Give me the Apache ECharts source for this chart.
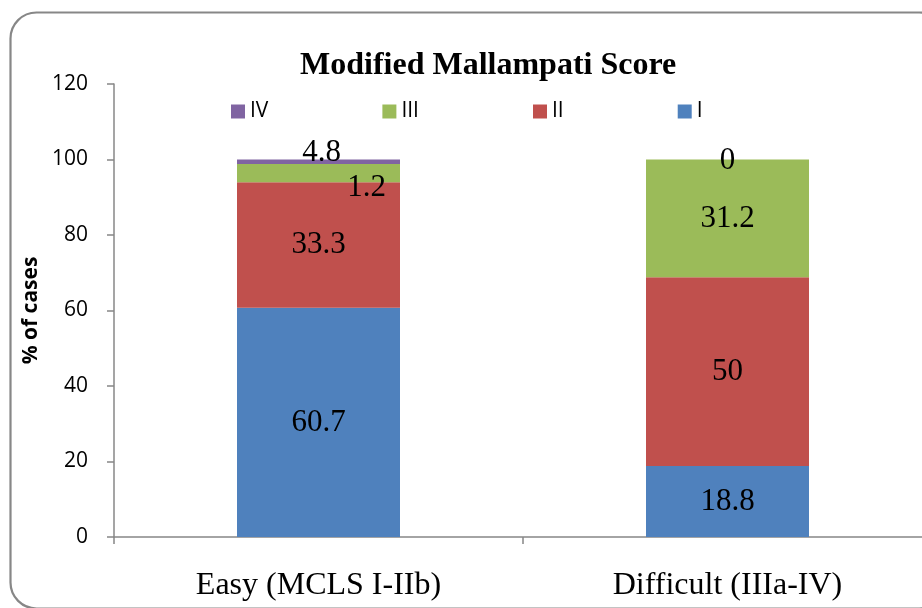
<!DOCTYPE html>
<html>
<head>
<meta charset="utf-8">
<script src="https://cdn.jsdelivr.net/npm/echarts@6/dist/echarts.min.js"></script>
<style>
html,body{margin:0;padding:0;background:#fff;}
#c{width:922px;height:608px;}
</style>
</head>
<body>
<div id="c"></div>
<script>
var categories = ['Easy (MCLS I-IIb)', 'Difficult (IIIa-IV)'];
var seriesNames = ['I', 'II', 'III', 'IV'];
var gradeI = [60.7, 18.8];
var gradeII = [33.3, 50];
var gradeIII = [4.8, 31.2];
var gradeIV = [1.2, 0];
var yTicks = [0, 20, 40, 60, 80, 100, 120];

var colors = {I:'#4F81BD', II:'#C0504D', III:'#9BBB59', IV:'#8064A2'};
var labelFont = {color:'#000', fontFamily:'"Liberation Serif","Times New Roman",serif', fontSize:31};

function mkData(vals, offsets){
  return vals.map(function(v,i){
    var d = {value:v};
    if (offsets && offsets[i]) d.label = {offset: offsets[i]};
    return d;
  });
}

var chart = echarts.init(document.getElementById('c'), null, {renderer:'canvas'});
var option = {
  animation:false,
  backgroundColor:'#fff',
  graphic:[{
    type:'rect', left:8, top:10, shape:{x:0,y:0,width:935,height:596,r:26},
    style:{fill:'none', stroke:'#878787', lineWidth:2.2}, z:-1, silent:true
  }],
  title:{
    text:'Modified Mallampati Score', left:295, top:45,
    textStyle:{fontFamily:'"Liberation Serif","Times New Roman",serif', fontWeight:'bold', fontSize:32, color:'#000'}
  },
  legend:{
    data:['IV','III','II','I'], left:226, top:96, itemWidth:14, itemHeight:14, itemGap:114,
    icon:'rect',
    textStyle:{fontFamily:'"Open Sans","Noto Sans",sans-serif', fontSize:21, color:'#000'}
  },
  grid:{left:114, top:84, width:818, height:453, containLabel:false, outerBoundsMode:'none'},
  xAxis:{
    type:'category', data:categories,
    axisLine:{lineStyle:{color:'#878787', width:1.5}},
    axisTick:{show:true, alignWithLabel:false, length:7, lineStyle:{color:'#878787', width:1.5}},
    axisLabel:{margin:33, color:'#000', fontFamily:'"Liberation Serif","Times New Roman",serif', fontSize:32}
  },
  yAxis:{
    type:'value', min:yTicks[0], max:yTicks[yTicks.length-1], interval:yTicks[1]-yTicks[0],
    name:'% of cases', nameLocation:'middle', nameGap:72, nameRotate:90,
    nameTextStyle:{fontFamily:'"Open Sans","Noto Sans",sans-serif', fontWeight:'bold', fontSize:21, color:'#000'},
    axisLine:{show:true, lineStyle:{color:'#878787', width:1.5}},
    axisTick:{show:true, length:7, lineStyle:{color:'#878787', width:1.5}},
    splitLine:{show:false},
    axisLabel:{margin:26, color:'#000', fontFamily:'"Open Sans","Noto Sans",sans-serif', fontSize:21}
  },
  series:[
    {name:'I', type:'bar', stack:'s', barWidth:163, data:mkData(gradeI),
     itemStyle:{color:colors.I}, label:Object.assign({show:true, position:'inside'}, labelFont)},
    {name:'II', type:'bar', stack:'s', barWidth:163, data:mkData(gradeII),
     itemStyle:{color:colors.II}, label:Object.assign({show:true, position:'inside'}, labelFont)},
    {name:'III', type:'bar', stack:'s', barWidth:163, data:mkData(gradeIII, [[3,-20], null]),
     itemStyle:{color:colors.III}, label:Object.assign({show:true, position:'inside'}, labelFont)},
    {name:'IV', type:'bar', stack:'s', barWidth:163, data:mkData(gradeIV, [[48,26],[0,1]]),
     itemStyle:{color:colors.IV}, label:Object.assign({show:true, position:'inside'}, labelFont)}
  ]
};
chart.setOption(option);
</script>
</body>
</html>
